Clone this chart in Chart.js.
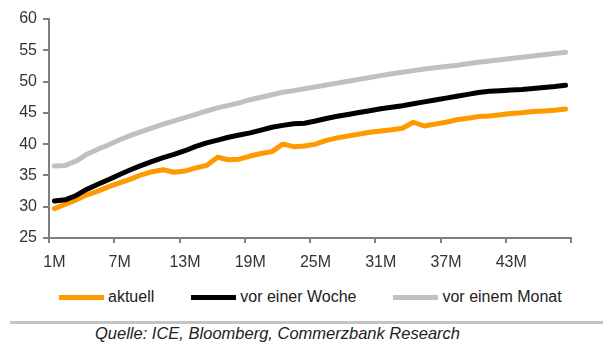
<!DOCTYPE html>
<html>
<head>
<meta charset="utf-8">
<script src="https://cdn.jsdelivr.net/npm/chart.js@4"></script>
<style>
  body { margin: 0; background: #fff; }
  #wrap { position: relative; width: 603px; height: 342px; font-family: "Liberation Sans", Arial, sans-serif; }
  #chartBox { position: absolute; left: 0; top: 0; width: 603px; height: 280px; }
  #legend { position: absolute; left: 59px; top: 288px; height: 18px; display: flex; align-items: center; font-size: 16px; color: #222; }
  #legend .item { display: flex; align-items: center; margin-right: 37px; }
  #legend .swatch { width: 45px; height: 5px; margin-right: 4px; }
  #rule { position: absolute; left: 10px; right: 0; top: 321px; height: 3px; background: #c4c4c4; }
  #source { position: absolute; left: 95px; top: 324px; font-size: 16.5px; font-style: italic; color: #222; }
</style>
</head>
<body>
<div id="wrap">
  <div id="chartBox"><canvas id="curve"></canvas></div>
  <div id="legend"></div>
  <div id="rule"></div>
  <div id="source">Quelle: ICE, Bloomberg, Commerzbank Research</div>
</div>
<script>
// maturities 1M..48M
const months = ["1M","2M","3M","4M","5M","6M","7M","8M","9M","10M","11M","12M",
  "13M","14M","15M","16M","17M","18M","19M","20M","21M","22M","23M","24M",
  "25M","26M","27M","28M","29M","30M","31M","32M","33M","34M","35M","36M",
  "37M","38M","39M","40M","41M","42M","43M","44M","45M","46M","47M","48M"];

const aktuell = [29.7, 30.4, 31.1, 31.9, 32.5, 33.2, 33.8, 34.4, 35.1, 35.6, 35.9, 35.5,
  35.7, 36.2, 36.6, 37.9, 37.5, 37.6, 38.1, 38.5, 38.8, 40.0, 39.6, 39.7,
  40.0, 40.6, 41.0, 41.3, 41.6, 41.9, 42.1, 42.3, 42.55, 43.5, 42.9, 43.2,
  43.5, 43.9, 44.15, 44.4, 44.5, 44.7, 44.9, 45.0, 45.2, 45.3, 45.4, 45.6];

const vorWoche = [30.9, 31.1, 31.8, 32.8, 33.6, 34.35, 35.15, 35.9, 36.6, 37.25, 37.85, 38.35,
  38.95, 39.65, 40.2, 40.65, 41.1, 41.45, 41.8, 42.25, 42.7, 43.0, 43.25, 43.35,
  43.7, 44.1, 44.45, 44.75, 45.05, 45.35, 45.65, 45.9, 46.15, 46.45, 46.75, 47.05,
  47.35, 47.65, 47.95, 48.25, 48.45, 48.55, 48.65, 48.75, 48.9, 49.05, 49.2, 49.4];

const vorMonat = [36.5, 36.6, 37.3, 38.4, 39.2, 39.9, 40.7, 41.4, 42.0, 42.6, 43.2, 43.7,
  44.25, 44.75, 45.3, 45.8, 46.2, 46.6, 47.1, 47.5, 47.9, 48.3, 48.55, 48.85,
  49.15, 49.45, 49.75, 50.05, 50.35, 50.65, 50.95, 51.25, 51.5, 51.75, 52.0, 52.2,
  52.4, 52.6, 52.85, 53.1, 53.3, 53.5, 53.7, 53.9, 54.1, 54.3, 54.5, 54.7];

const yTicks = { min: 25, max: 60, step: 5 };
const labelEvery = 6;

const axisGrey = "#7f7f7f";
const textColor = "#333";
const font = { family: "'Liberation Sans', Arial, sans-serif", size: 16 };

const series = [
  { label: "aktuell", data: aktuell, color: "#ff9900", order: 3 },
  { label: "vor einer Woche", data: vorWoche, color: "#000000", order: 2 },
  { label: "vor einem Monat", data: vorMonat, color: "#c0c0c0", order: 1 },
];

new Chart(document.getElementById("curve"), {
  type: "line",
  data: {
    labels: months,
    datasets: series.map((s) => ({
      label: s.label,
      data: s.data,
      borderColor: s.color,
      backgroundColor: s.color,
      borderWidth: 5,
      pointRadius: 0,
      tension: 0,
      borderCapStyle: "round",
      borderJoinStyle: "round",
      order: s.order,
    })),
  },
  options: {
    responsive: true,
    maintainAspectRatio: false,
    animation: false,
    layout: { padding: { top: 19, right: 32, left: 0, bottom: 0 } },
    plugins: { legend: { display: false }, tooltip: { enabled: false } },
    scales: {
      x: {
        type: "category",
        offset: true,
        afterFit: (scale) => { scale.height = 42; },
        border: { color: axisGrey, width: 2 },
        grid: {
          offset: true,
          drawOnChartArea: false,
          tickLength: 5,
          lineWidth: 2,
          // tick marks only at every 6th band boundary and the axis end
          color: (ctx) => (ctx.type !== "tick" || ctx.index % labelEvery === 0 ? axisGrey : "transparent"),
        },
        ticks: {
          autoSkip: false,
          maxRotation: 0,
          padding: 10,
          color: textColor,
          font: font,
          callback: (val, i) => (i % labelEvery === 0 ? months[i] : ""),
        },
      },
      y: {
        min: yTicks.min,
        max: yTicks.max,
        afterFit: (scale) => { scale.width = 49; },
        border: { color: axisGrey, width: 2 },
        grid: { drawOnChartArea: false, tickLength: 6, lineWidth: 2, color: axisGrey },
        ticks: { stepSize: yTicks.step, padding: 6, color: textColor, font: font },
      },
    },
  },
});

// html legend built from the same series list
const legend = document.getElementById("legend");
series.forEach((s) => {
  const item = document.createElement("div");
  item.className = "item";
  const sw = document.createElement("span");
  sw.className = "swatch";
  sw.style.background = s.color;
  const txt = document.createElement("span");
  txt.textContent = s.label;
  item.appendChild(sw);
  item.appendChild(txt);
  legend.appendChild(item);
});
</script>
</body>
</html>
